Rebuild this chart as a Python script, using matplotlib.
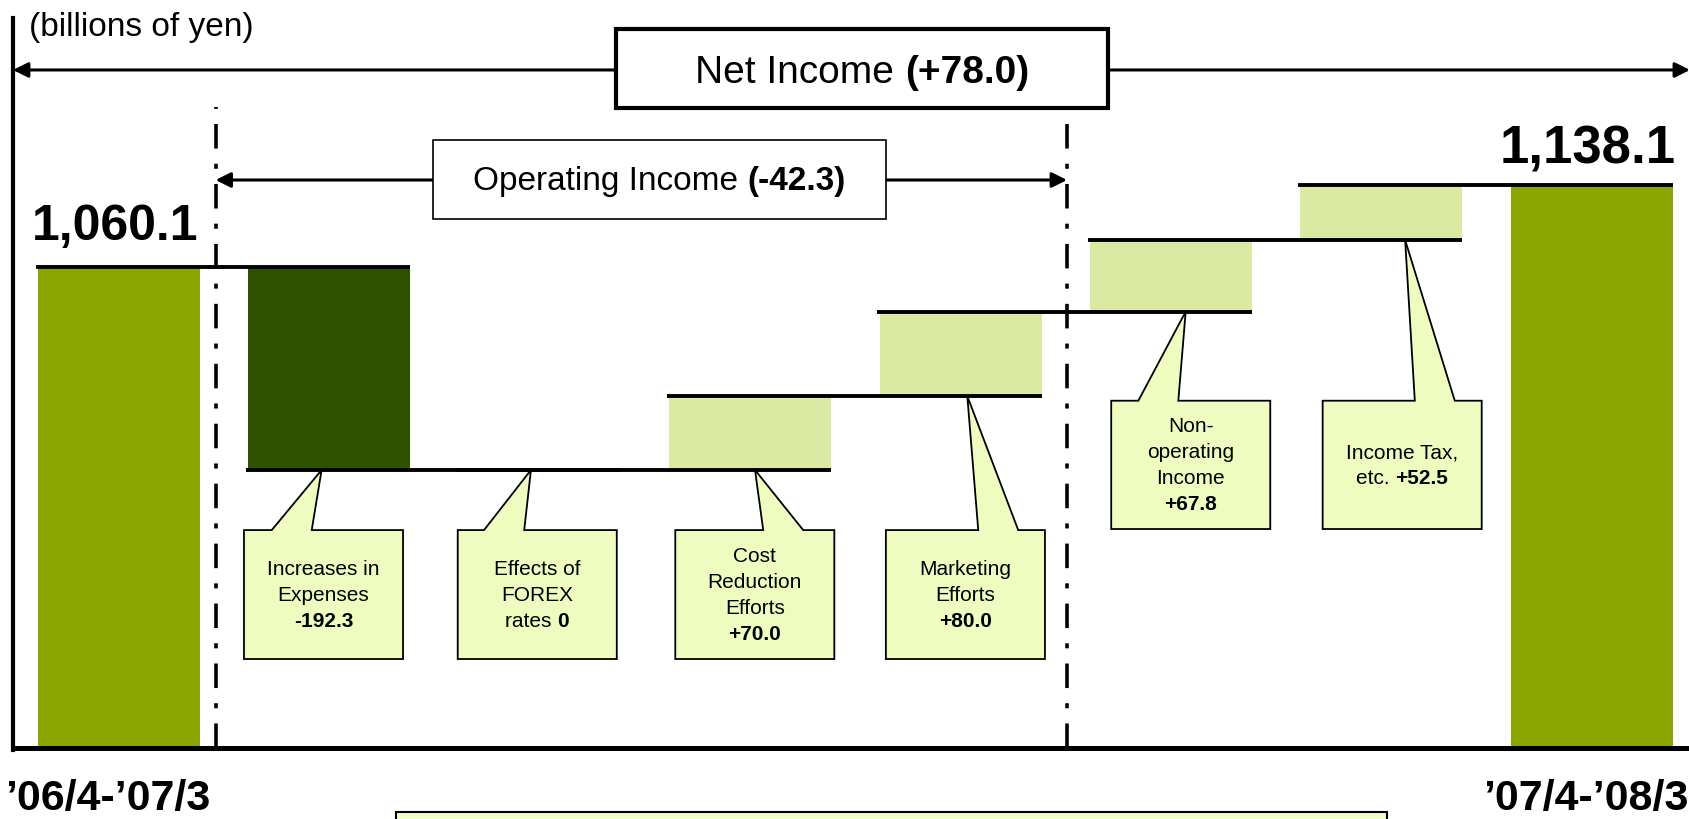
import matplotlib
matplotlib.use('Agg')
import numpy as np
import matplotlib.pyplot as plt
from matplotlib.patches import Rectangle, Polygon, FancyArrowPatch
from matplotlib.offsetbox import TextArea, HPacker, VPacker, AnnotationBbox

# --- data (billions of yen) ---
periods = ['\u201906/4-\u201907/3', '\u201907/4-\u201908/3']
start_total = 1060.1
end_total = 1138.1
step_labels = ['Increases in\nExpenses', 'Effects of\nFOREX\nrates', 'Cost\nReduction\nEfforts',
               'Marketing\nEfforts', 'Non-\noperating\nIncome', 'Income Tax,\netc.']
step_values = [-192.3, 0.0, 70.0, 80.0, 67.8, 52.5]
operating_change = -42.3
net_change = 78.0

FONT = 'Liberation Sans'
OLIVE = '#8CA600'
DARK = '#2E5200'
LIGHT = '#DAEAA2'
NOTE = '#EEFCC0'


def fmt(v):
    return '0' if v == 0 else '%+.1f' % v


def rich(ax, x, y, lines, size, family=FONT, sep=5, z=6):
    rows = []
    for segs in lines:
        kids = [TextArea(s, textprops=dict(fontsize=size, fontweight=wt, family=family))
                for s, wt in segs]
        rows.append(HPacker(children=kids, pad=0, sep=0, align='baseline'))
    box = VPacker(children=rows, pad=0, sep=sep, align='center')
    ab = AnnotationBbox(box, (x, y), xycoords='data', frameon=False,
                        box_alignment=(0.5, 0.5), pad=0, zorder=z)
    ax.add_artist(ab)


fig = plt.figure(figsize=(16.9, 8.2), dpi=100)
ax = fig.add_axes([0, 0, 1, 1])
ax.set_xlim(-0.5656, 7.467)
ax.set_ylim(537.3, 1313.8)
ax.axis('off')

base = 604.5
w = 0.77
n = len(step_values)
levels = start_total + np.concatenate([[0], np.cumsum(step_values)])

# total bars
ax.bar([0, n + 1], [start_total - base, end_total - base], bottom=base, width=w,
       color=OLIVE, zorder=2)

# step bars
for i, v in enumerate(step_values):
    lo = min(levels[i], levels[i + 1])
    if v != 0:
        ax.bar(i + 1, abs(v), bottom=lo, width=w, color=DARK if v < 0 else LIGHT, zorder=2)

# connector lines
for i in range(n + 1):
    ax.hlines(levels[i], i - w / 2 - 0.01, i + 1 + w / 2, color='black', lw=2.8, zorder=3)

# axes lines
ax.plot([-0.504, -0.504], [base - 2, 1295.8], color='black', lw=3, zorder=5)
ax.plot([-0.504, 7.467], [base, base], color='black', lw=3.6, zorder=5)

# dash-dot separators
for xs in [0.459, 4.506]:
    ax.plot([xs, xs], [base, 1211.5], color='black', lw=2.6,
            dashes=(6.8, 4.2, 1.4, 4.2), zorder=3)

# net income arrow + box
ax.add_patch(FancyArrowPatch((-0.504, 1246.6), (7.467, 1246.6),
                             arrowstyle='<|-|>,head_length=0.9,head_width=0.45',
                             mutation_scale=10, lw=2.2, color='black',
                             shrinkA=0, shrinkB=0, zorder=4))
ax.add_patch(Rectangle((2.362, 1210.6), 4.700 - 2.362, 1285.4 - 1210.6,
                       fc='white', ec='black', lw=3, zorder=5))
rich(ax, 3.531, 1244.5, [[('Net Income ', 'normal'), ('(%+.1f)' % net_change, 'bold')]], 28)

# operating income arrow + box
ax.add_patch(FancyArrowPatch((0.459, 1142.4), (4.506, 1142.4),
                             arrowstyle='<|-|>,head_length=0.9,head_width=0.45',
                             mutation_scale=10, lw=2.2, color='black',
                             shrinkA=0, shrinkB=0, zorder=4))
ax.add_patch(Rectangle((1.492, 1105.5), 3.645 - 1.492, 1180.3 - 1105.5,
                       fc='white', ec='black', lw=1.2, zorder=5))
rich(ax, 2.569, 1141.5, [[('Operating Income ', 'normal'), ('(%+.1f)' % operating_change, 'bold')]],
     24)

# callouts
box_cx = [0.972, 1.988, 3.022, 4.023, 5.094, 6.099]
tip_x = [0.963, 1.958, 3.023, 4.032, 5.07, 6.113]
bases = [(0.726, 0.916), (1.735, 1.926), (3.062, 3.252), (4.084, 4.274), (4.845, 5.035), (6.159, 6.349)]
upper = {4, 5}
inline = {1, 5}
bw = 0.756
for i, v in enumerate(step_values):
    top, bot = (933.4, 811.9) if i in upper else (810.9, 688.8)
    L, R = box_cx[i] - bw / 2, box_cx[i] + bw / 2
    tip_y = min(levels[i], levels[i + 1])
    b1, b2 = bases[i]
    poly = Polygon([(L, bot), (L, top), (b1, top), (tip_x[i], tip_y), (b2, top), (R, top), (R, bot)],
                   closed=True, fc=NOTE, ec='black', lw=1.3, zorder=4)
    ax.add_patch(poly)
    lines = [[(s, 'normal')] for s in step_labels[i].split('\n')]
    if i in inline:
        lines[-1] = [(lines[-1][0][0] + ' ', 'normal'), (fmt(v), 'bold')]
    else:
        lines.append([(fmt(v), 'bold')])
    rich(ax, box_cx[i], (top + bot) / 2, lines, 15)

# total labels
ax.annotate('{:,.1f}'.format(start_total), (-0.02, start_total), xytext=(0, 20),
            textcoords='offset points', ha='center', va='baseline',
            fontsize=36, fontweight='bold', family=FONT, zorder=6)
ax.annotate('{:,.1f}'.format(end_total), (6.98, end_total), xytext=(0, 16),
            textcoords='offset points', ha='center', va='baseline',
            fontsize=38, fontweight='bold', family=FONT, zorder=6)

# period labels
ax.text(-0.052, 547, periods[0], ha='center', va='baseline', fontsize=31,
        fontweight='bold', family=FONT)
ax.text(6.972, 547, periods[1], ha='center', va='baseline', fontsize=31,
        fontweight='bold', family=FONT)

ax.text(-0.428, 1287.3, '(billions of yen)', ha='left', va='center', fontsize=24, family=FONT)

# bottom box (cut off at figure edge)
ax.add_patch(Rectangle((1.316, 520), 6.027 - 1.316, 543.9 - 520,
                       fc='#F0FDC8', ec='black', lw=1.5, zorder=3))

fig.savefig('out.png', dpi=100)
